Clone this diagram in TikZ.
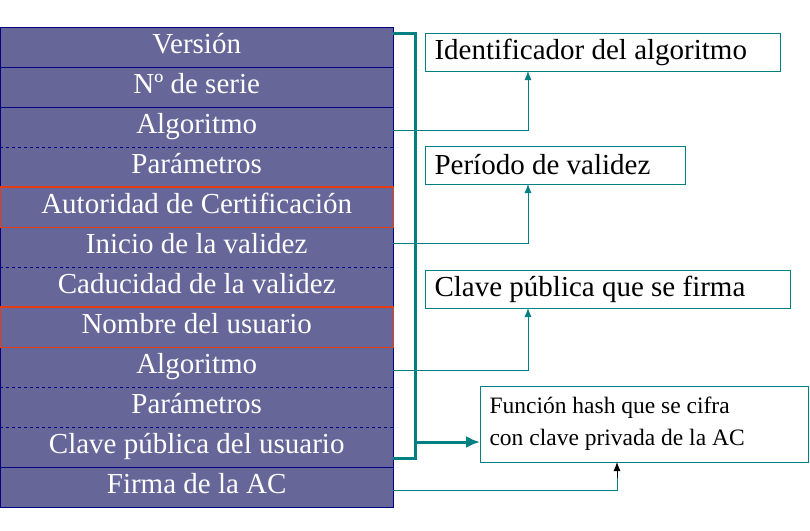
\documentclass[tikz,border=0pt]{standalone}
\usepackage{fontspec}
\setmainfont{Liberation Serif}
\usetikzlibrary{arrows.meta}
\definecolor{rowfill}{RGB}{102,102,153}
\definecolor{rowline}{RGB}{0,0,128}
\definecolor{redline}{RGB}{230,60,20}
\begin{document}
\begin{tikzpicture}[x=1pt,y=-1pt,
 row/.style={draw=rowline,fill=rowfill,text=white,minimum width=393pt,minimum height=40pt,anchor=north west,inner sep=0pt,font=\fontsize{29}{29}\selectfont},
 box/.style={draw=teal,thick,anchor=north west,inner sep=0pt},
 lbl/.style={anchor=west,font=\fontsize{29}{29}\selectfont},
 con/.style={draw=teal,thick,-{Latex[length=9pt,width=7pt]}},
 sep/.style={draw=rowline,dashed,thin}]
\useasboundingbox (0,0) rectangle (810,530);
\foreach \t [count=\i from 0] in {Versión,Nº de serie,Algoritmo,Parámetros,Autoridad de Certificación,Inicio de la validez,Caducidad de la validez,Nombre del usuario,Algoritmo,Parámetros,Clave pública del usuario,Firma de la AC}{
 \node[row] (r\i) at (0,27+40*\i) {\strut\t};}
\foreach \i in {2,5,8,9}{\draw[rowfill,thick] (r\i.south west) -- (r\i.south east);\draw[sep] (r\i.south west) -- (r\i.south east);}
\draw[redline,line width=1.3pt] (r4.north west) rectangle (r4.south east);
\draw[redline,line width=1.3pt] (r7.north west) rectangle (r7.south east);
\node[box,minimum width=355pt,minimum height=38pt] (b1) at (425,33) {};
\node[lbl] at (431,52) {Identificador del algoritmo};
\node[box,minimum width=260pt,minimum height=38pt] (b2) at (425,146) {};
\node[lbl] at (431,165) {Período de validez};
\node[box,minimum width=365pt,minimum height=38pt] (b3) at (425,270) {};
\node[lbl] at (431,289) {Clave pública que se firma};
\node[box,minimum width=328pt,minimum height=76pt] (b4) at (480,386) {};
\node[anchor=west,align=left,font=\fontsize{23.5}{32}\selectfont] at (486,424) {Función hash que se cifra\\con clave privada de la AC};
\coordinate (c1) at (528,71); \coordinate (c2) at (528,184); \coordinate (c3) at (528,308); \coordinate (c4) at (617,462);
\draw[con] (393,130) -| (c1);
\draw[con] (393,243) -| (c2);
\draw[con] (393,370) -| (c3);
\draw[draw=teal,thick] (393,490) -| (617,478);
\draw[-{Latex[length=9pt,width=7pt]},thick] (617,478) -- (c4);
\draw[teal,line width=3pt] (393,33) -- (415,33) -- (415,458) -- (393,458);
\draw[teal,line width=3pt,-{Latex[length=14pt,width=12pt]}] (415,442) -- (b4.west |- 0,442);
\end{tikzpicture}
\end{document}
